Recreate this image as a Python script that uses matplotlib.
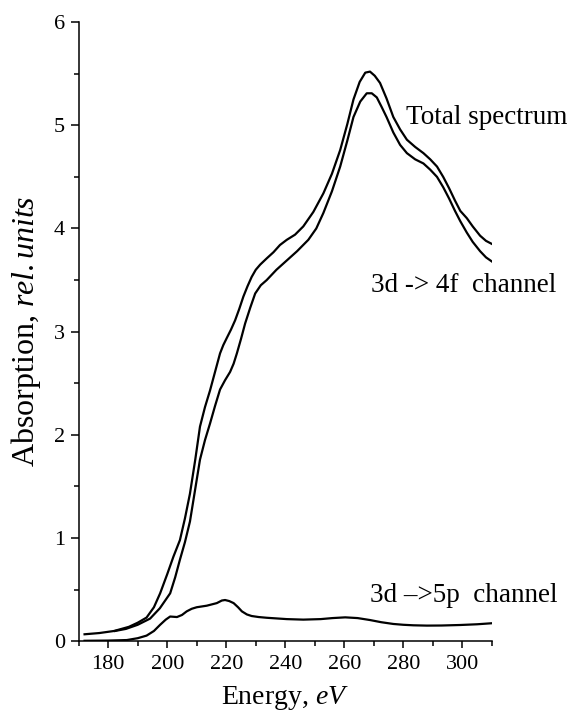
import numpy as np
import matplotlib.pyplot as plt

# -----------------------------
# Data
# -----------------------------

# Total spectrum
e_total = [172, 177, 182, 187, 190, 193, 195.5, 197.6, 200, 202.1, 204.3, 206, 207.7,
           209.5, 211.1, 212.8, 214.5, 216.2, 217.9, 219, 220.2, 221.6, 223, 224.4,
           225.8, 227.2, 228.6, 230, 231.5, 233.7, 236, 238.2, 240.5, 243.3, 246.1,
           249.5, 252.9, 255.8, 258.6, 261, 263.1, 265.2, 267.1, 268.7, 270.3, 272.1,
           274.3, 276.6, 278.9, 281.2, 284, 286.8, 289.1, 291.4, 293.5, 295.5, 297.5,
           299.3, 301.5, 303.5, 306, 308, 310]
y_total = [0.068, 0.08, 0.10, 0.14, 0.18, 0.23, 0.33, 0.465, 0.65, 0.82, 0.98, 1.19, 1.43,
           1.76, 2.08, 2.27, 2.43, 2.61, 2.79, 2.87, 2.94, 3.02, 3.11, 3.22,
           3.34, 3.44, 3.53, 3.60, 3.65, 3.71, 3.77, 3.84, 3.89, 3.94, 4.02,
           4.16, 4.34, 4.53, 4.76, 5.01, 5.25, 5.42, 5.51, 5.52, 5.48, 5.41,
           5.26, 5.08, 4.96, 4.86, 4.79, 4.73, 4.67, 4.60, 4.50, 4.39, 4.27,
           4.17, 4.10, 4.02, 3.93, 3.88, 3.85]

# 3d -> 4f channel
e_4f = [182.3, 186, 190, 194.2, 197.5, 201, 202.7, 204.3, 206, 207.7, 209.4, 211.1,
        212.8, 214.5, 216.2, 217.9, 219.6, 221.3, 222.5, 223.6, 225, 226.4, 228.1,
        229.8, 231.7, 233.7, 237, 240.5, 244, 247.8, 250.5, 252.9, 255.8, 258.6,
        261, 263.1, 265.4, 267.6, 269.3, 271, 272.6, 274.3, 276.6, 278.9, 281.2,
        284, 286.8, 289.1, 291.4, 293.5, 295.5, 297.5, 299.3, 301.5, 303.5, 306,
        308, 310]
y_4f = [0.10, 0.12, 0.16, 0.22, 0.32, 0.465, 0.62, 0.79, 0.96, 1.16, 1.46, 1.76,
        1.95, 2.11, 2.28, 2.44, 2.53, 2.61, 2.69, 2.79, 2.93, 3.08, 3.23,
        3.37, 3.45, 3.50, 3.60, 3.69, 3.78, 3.89, 4.00, 4.15, 4.36, 4.60,
        4.85, 5.08, 5.23, 5.31, 5.31, 5.27, 5.18, 5.08, 4.93, 4.81, 4.73,
        4.67, 4.63, 4.57, 4.50, 4.40, 4.29, 4.17, 4.07, 3.96, 3.87, 3.78,
        3.72, 3.68]

# 3d -> 5p channel
e_5p = [172, 180, 186.3, 190, 193, 195.5, 197.6, 199.5, 201, 203.3, 205, 206.6, 208.3,
        210, 213.4, 216.8, 218.5, 219.6, 221, 222.5, 224, 225.3, 227, 228.6, 231,
        233.7, 240.5, 246.1, 252, 256, 260.3, 264.5, 268.7, 272.5, 276.6, 280,
        283.4, 288, 293, 299.3, 305, 310]
y_5p = [0.005, 0.007, 0.012, 0.03, 0.055, 0.10, 0.16, 0.21, 0.24, 0.235, 0.255, 0.29, 0.315,
        0.33, 0.345, 0.37, 0.395, 0.40, 0.39, 0.37, 0.33, 0.29, 0.26, 0.245, 0.235,
        0.228, 0.215, 0.21, 0.215, 0.225, 0.232, 0.225, 0.206, 0.185, 0.168, 0.16,
        0.155, 0.152, 0.153, 0.158, 0.165, 0.175]

# -----------------------------
# Style
# -----------------------------

plt.rcParams["font.family"] = "Liberation Serif"
plt.rcParams["mathtext.fontset"] = "custom"
plt.rcParams["mathtext.rm"] = "Liberation Serif"
plt.rcParams["mathtext.it"] = "Liberation Serif:italic"
plt.rcParams["font.size"] = 16

fig = plt.figure(figsize=(5.7, 7.12), dpi=100)
ax = fig.add_axes([0.138, 0.0993, 0.725, 0.8697])

ax.plot(e_total, y_total, color="black", lw=1.6)
ax.plot(e_4f, y_4f, color="black", lw=1.6)
ax.plot(e_5p, y_5p, color="black", lw=1.6)

ax.set_xlim(170, 310)
ax.set_ylim(0, 6)
ax.set_xticks(np.arange(180, 301, 20))
ax.set_xticks(np.arange(170, 311, 10), minor=True)
ax.set_yticks(np.arange(0, 7, 1))
ax.set_yticks(np.arange(0, 6.01, 0.5), minor=True)

for side in ["top", "right"]:
    ax.spines[side].set_visible(False)
for side in ["left", "bottom"]:
    ax.spines[side].set_linewidth(1.1)

ax.tick_params(axis="x", which="major", direction="out", length=5, width=1.1, pad=5, labelsize=16)
ax.tick_params(axis="x", which="minor", direction="out", length=3.5, width=1.1)
ax.tick_params(axis="y", which="major", direction="out", length=6, width=1.1, pad=4, labelsize=16)
ax.tick_params(axis="y", which="minor", direction="out", length=3.5, width=1.1)

ax.set_xlabel("Energy, $\\mathit{eV}$", fontsize=20, labelpad=7)
ax.set_ylabel("Absorption, $\\mathit{rel.units}$", fontsize=23, labelpad=8)

ax.text(406 / 570, 1 - 117 / 712, "Total spectrum", transform=fig.transFigure,
        fontsize=19.5, va="center", ha="left")
ax.text(371 / 570, 1 - 285 / 712, "3d -> 4f  channel", transform=fig.transFigure,
        fontsize=19.5, va="center", ha="left")
ax.text(370 / 570, 1 - 596 / 712, "3d \u2013>5p  channel", transform=fig.transFigure,
        fontsize=19.5, va="center", ha="left")

plt.savefig("out.png", dpi=100)
